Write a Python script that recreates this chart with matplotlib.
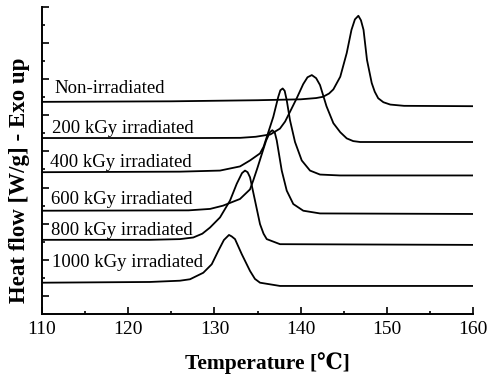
import matplotlib
matplotlib.use("Agg")
import matplotlib.pyplot as plt
from matplotlib.ticker import MultipleLocator

# curves (temperature in C, heat flow in tick units)
t_non = [110, 125, 135, 140, 141.8, 142.6, 143.3, 143.8, 144.6, 145.35, 145.9, 146.3, 146.7, 147.0, 147.3, 147.7, 148.25, 148.6, 149.0, 149.6, 150.4, 152, 160]
y_non = [11.74, 11.77, 11.83, 11.88, 11.95, 12.02, 12.2, 12.43, 13.13, 14.44, 15.72, 16.3, 16.5, 16.25, 15.72, 14.06, 12.78, 12.3, 11.94, 11.72, 11.59, 11.52, 11.5]

t_200 = [110, 128.3, 133, 134.8, 136.5, 137.6, 138.2, 138.8, 139.55, 140.3, 140.8, 141.3, 141.8, 142.25, 143.0, 143.8, 144.6, 145.35, 146.1, 146.9, 160]
y_200 = [9.74, 9.74, 9.75, 9.81, 9.94, 10.26, 10.65, 11.22, 11.94, 12.72, 13.1, 13.22, 13.05, 12.67, 11.5, 10.56, 10.06, 9.72, 9.57, 9.52, 9.52]

t_400 = [110, 126, 130.65, 132.97, 134.13, 135.29, 135.7, 136.07, 136.83, 137.41, 137.65, 137.92, 138.15, 138.39, 138.77, 139.35, 140.13, 141.09, 142.25, 144.57, 160]
y_400 = [7.85, 7.88, 7.94, 8.17, 8.5, 8.89, 9.25, 9.79, 10.91, 12.02, 12.38, 12.48, 12.35, 11.83, 10.72, 9.52, 8.5, 7.94, 7.72, 7.67, 7.67]

t_600 = [110, 127, 129.5, 131.0, 132.97, 134.13, 134.51, 135.0, 135.51, 136.0, 136.45, 136.72, 137.0, 137.23, 137.81, 138.39, 139.15, 140.31, 142.25, 160]
y_600 = [5.72, 5.74, 5.82, 6.0, 6.37, 6.9, 7.4, 8.1, 8.87, 9.6, 10.07, 10.17, 10.05, 9.61, 7.94, 6.83, 6.09, 5.72, 5.57, 5.54]

t_800 = [110, 122.5, 126.0, 127.55, 128.6, 129.49, 130.65, 131.81, 132.59, 133.2, 133.55, 133.85, 134.13, 134.71, 135.29, 135.7, 136.07, 137.61, 160]
y_800 = [4.11, 4.11, 4.15, 4.24, 4.45, 4.79, 5.35, 6.28, 7.21, 7.8, 7.94, 7.85, 7.57, 6.28, 4.98, 4.45, 4.15, 3.87, 3.83]

t_1000 = [110, 122.5, 126.0, 127.17, 128.71, 129.69, 130.45, 131.1, 131.69, 132.0, 132.39, 133.17, 134.13, 134.7, 135.29, 137.61, 160]
y_1000 = [1.74, 1.78, 1.85, 1.93, 2.29, 2.76, 3.5, 4.1, 4.38, 4.3, 4.15, 3.32, 2.39, 1.95, 1.74, 1.56, 1.56]

labels = ["Non-irradiated", "200 kGy irradiated", "400 kGy irradiated",
          "600 kGy irradiated", "800 kGy irradiated", "1000 kGy irradiated"]
label_x = [111.4, 111.2, 110.9, 111.0, 111.0, 111.2]
label_y = [12.5, 10.28, 8.39, 6.33, 4.61, 2.83]

serif = ["Liberation Serif", "DejaVu Serif"]
plt.rcParams["font.family"] = serif

fig = plt.figure(figsize=(4.92, 3.74), dpi=100)
ax = fig.add_axes([0.0854, 0.160, 0.876, 0.822])

for t, y in [(t_non, y_non), (t_200, y_200), (t_400, y_400),
             (t_600, y_600), (t_800, y_800), (t_1000, y_1000)]:
    ax.plot(t, y, color="black", lw=1.3)

for lab, x, y in zip(labels, label_x, label_y):
    ax.text(x, y, lab, fontsize=13.5, va="center", ha="left")

ax.set_xlim(110, 160)
ax.set_ylim(0, 17)
ax.spines["top"].set_visible(False)
ax.spines["right"].set_visible(False)
for s in ["left", "bottom"]:
    ax.spines[s].set_linewidth(1.4)

ax.xaxis.set_major_locator(MultipleLocator(10))
ax.xaxis.set_minor_locator(MultipleLocator(5))
ax.set_yticks([1, 3, 5, 7, 9, 11, 13, 15, 17])
ax.set_yticks([2, 4, 6, 8, 10, 12, 14, 16], minor=True)
ax.tick_params(axis="both", which="major", direction="in", length=5, width=1.2)
ax.tick_params(axis="both", which="minor", direction="in", length=2.5, width=1.2)
ax.tick_params(axis="y", which="both", labelleft=False)
ax.tick_params(axis="x", which="major", labelsize=14, pad=5)

ax.set_xlabel("Temperature [\u2103]", fontsize=15.5, fontweight="bold")
ax.set_ylabel("Heat flow [W/g] - Exo up", fontsize=16.5, fontweight="bold")
ax.xaxis.set_label_coords(0.524, -0.124)
ax.yaxis.set_label_coords(-0.028, 0.436)

fig.savefig("out.png", dpi=100)
